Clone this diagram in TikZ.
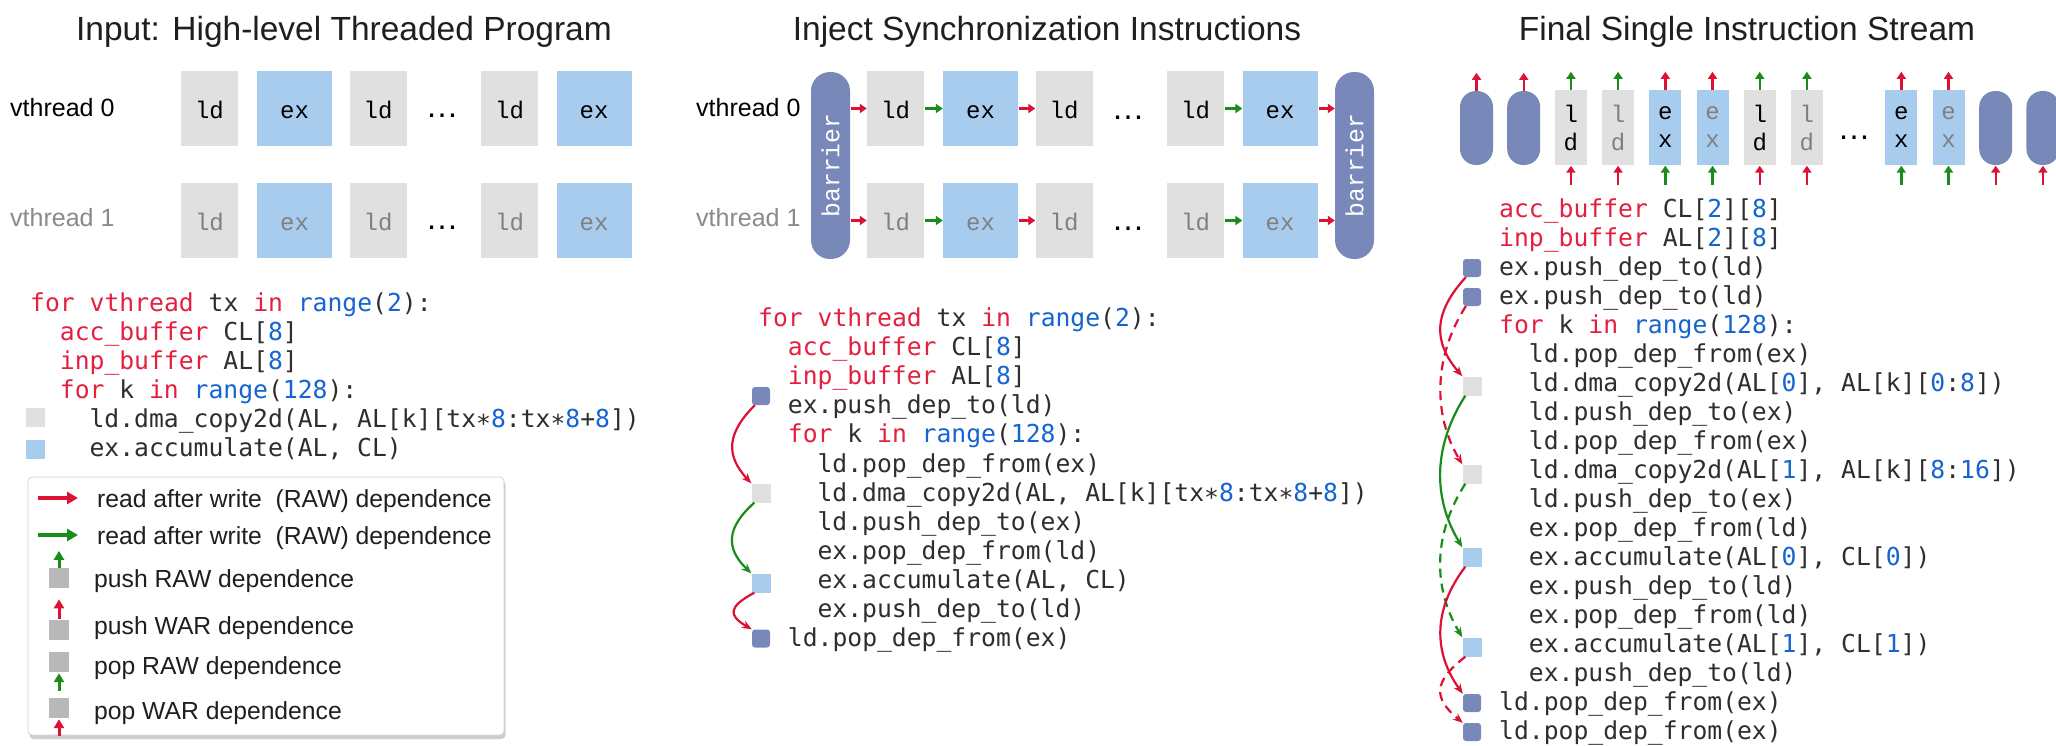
\documentclass[tikz,border=0pt]{standalone}
\usepackage{fontspec}
\setmainfont{Liberation Sans}
\newfontfamily\codefont{DejaVu Sans Mono}
\newfontfamily\monofont{Liberation Mono}
\usetikzlibrary{arrows.meta,shadows}

\definecolor{kwred}{HTML}{E3203F}
\definecolor{numblue}{HTML}{1464D2}
\definecolor{codeink}{HTML}{2E2E2E}
\definecolor{depred}{HTML}{DD1133}
\definecolor{depgreen}{HTML}{1A8C1A}
\definecolor{ldgray}{HTML}{E0E0E0}
\definecolor{exblue}{HTML}{A8CCEE}
\definecolor{barrierblue}{HTML}{7888B8}
\definecolor{keygray}{HTML}{B8B8B8}
\definecolor{threadgray}{HTML}{8A8A8A}
\definecolor{boxgray}{HTML}{808080}

\newcommand\ckw[1]{\textcolor{kwred}{#1}}
\newcommand\cnum[1]{\textcolor{numblue}{#1}}

\begin{document}
\begin{tikzpicture}[x=1pt,y=-1pt,
  title/.style={anchor=base, inner sep=0, font=\fontsize{33.5}{40}\selectfont, text=black!88},
  thread/.style={anchor=base west, inner sep=0, font=\fontsize{25}{30}\selectfont},
  codeln/.style={anchor=base west, inner sep=0, font=\codefont\fontsize{24.7}{29}\selectfont, text=codeink},
  keytext/.style={anchor=base west, inner sep=0, font=\fontsize{24.7}{29}\selectfont, text=black!88},
  ldbox/.style={fill=ldgray, minimum width=57pt, minimum height=75pt, inner sep=0,
    font=\monofont\fontsize{24}{24}\selectfont, text height=19pt, text depth=0pt},
  exbox/.style={ldbox, fill=exblue, minimum width=75pt},
  barrierbox/.style={fill=barrierblue, rounded corners=19pt, minimum width=39pt, minimum height=187pt,
    inner sep=0, text=white, font=\monofont\fontsize{24.7}{24.7}\selectfont},
  pill/.style={fill=barrierblue, rounded corners=16pt, minimum width=33pt, minimum height=74pt, inner sep=0},
  slot/.style={minimum width=32pt, minimum height=75pt, inner sep=0, align=center,
    font=\monofont\fontsize{24}{28}\selectfont},
  ellipsis/.style={anchor=base, inner sep=0, font=\fontsize{33}{33}\selectfont},
  ldtag/.style={fill=ldgray, minimum size=19pt, inner sep=0},
  extag/.style={fill=exblue, minimum size=19pt, inner sep=0},
  bartag/.style={fill=barrierblue, minimum size=18pt, inner sep=0, rounded corners=3pt},
  keytag/.style={fill=keygray, minimum size=20pt, inner sep=0},
  keybox/.style={draw=black!18, line width=0.8pt, fill=white, rounded corners=4pt,
    minimum width=476pt, minimum height=258pt,
    drop shadow={shadow xshift=1.5pt, shadow yshift=-4pt, opacity=0.35, fill=black!55}},
  flow/.style={line width=2.4pt, -{Triangle[length=7pt,width=9pt]}},
  depr/.style={flow, draw=depred},
  depg/.style={flow, draw=depgreen},
  deparc/.style={line width=2.2pt, -{Stealth[length=10pt,width=8pt]}},
  arcr/.style={deparc, draw=depred},
  arcg/.style={deparc, draw=depgreen},
  brk/.style={dash pattern=on 9pt off 6pt},
  keyflow/.style={line width=3.5pt, -{Triangle[length=11pt,width=12pt]}},
  keyup/.style={line width=3pt, -{Triangle[length=9pt,width=10pt]}}
]
\useasboundingbox (0,0) rectangle (2056,745);
\fill[white] (0,0) rectangle (2056,745);

% ---------- titles ----------
\node[title] (t1) at (344,40) {Input: High-level Threaded Program};
\node[title] (t2) at (1047,40) {Inject Synchronization Instructions};
\node[title] (t3) at (1747,40) {Final Single Instruction Stream};

% ---------- panel 1: threaded program ----------
\node[thread] (v0) at (10,116) {vthread 0};
\node[thread, text=threadgray] (v1) at (10,226) {vthread 1};

\node[ldbox] (a0) at (209.5,108.5) {ld};
\node[exbox] (a1) at (294.5,108.5) {ex};
\node[ldbox] (a2) at (378,108.5) {ld};
\node[ellipsis] (ad0) at (442,117) {…};
\node[ldbox] (a3) at (509.5,108.5) {ld};
\node[exbox] (a4) at (594,108.5) {ex};

\node[ldbox, text=boxgray] (b0) at (209.5,220.5) {ld};
\node[exbox, text=boxgray] (b1) at (294.5,220.5) {ex};
\node[ldbox, text=boxgray] (b2) at (378,220.5) {ld};
\node[ellipsis] (bd0) at (442,229) {…};
\node[ldbox, text=boxgray] (b3) at (509.5,220.5) {ld};
\node[exbox, text=boxgray] (b4) at (594,220.5) {ex};

\node[codeln] (p0) at (30,311) {\ckw{for vthread} tx \ckw{in} \cnum{range}(\cnum{2}):};
\node[codeln] (p1) at (59.7,340) {\ckw{acc\_buffer} CL[\cnum{8}]};
\node[codeln] (p2) at (59.7,369) {\ckw{inp\_buffer} AL[\cnum{8}]};
\node[codeln] (p3) at (59.7,398) {\ckw{for} k \ckw{in} \cnum{range}(\cnum{128}):};
\node[codeln] (p4) at (89.4,427) {ld.dma\_copy2d(AL, AL[k][tx∗\cnum{8}:tx∗\cnum{8}+\cnum{8}])};
\node[codeln] (p5) at (89.4,456) {ex.accumulate(AL, CL)};
\node[ldtag] (p4tag) at (35.5,417.5) {};
\node[extag] (p5tag) at (35.5,449) {};

% legend
\node[keybox] (key) at (266,606) {};
\coordinate (k1a) at (38,498);
\coordinate (k1b) at (78,498);
\draw[keyflow, draw=depred] (k1a) -- (k1b);
\node[keytext] (k1t) at (97,507) {read after write\ \ (RAW) dependence};
\coordinate (k2a) at (38,535);
\coordinate (k2b) at (78,535);
\draw[keyflow, draw=depgreen] (k2a) -- (k2b);
\node[keytext] (k2t) at (97,544) {read after write\ \ (RAW) dependence};
\node[keytag] (k3) at (59,578) {};
\draw[keyup, draw=depgreen] (k3.north) -- ([yshift=17pt]k3.north);
\node[keytext] (k3t) at (94,587) {push RAW dependence};
\node[keytag] (k4) at (59,629.5) {};
\draw[keyup, draw=depred] (k4.north) -- ([yshift=20pt]k4.north);
\node[keytext] (k4t) at (94,634) {push WAR dependence};
\node[keytag] (k5) at (59,662) {};
\draw[keyup, draw=depgreen] ([yshift=-19pt]k5.south) -- ([yshift=-1pt]k5.south);
\node[keytext] (k5t) at (94,674) {pop RAW dependence};
\node[keytag] (k6) at (59,708) {};
\draw[keyup, draw=depred] ([yshift=-18pt]k6.south) -- ([yshift=-1pt]k6.south);
\node[keytext] (k6t) at (94,719) {pop WAR dependence};

% ---------- panel 2: synchronization ----------
\node[thread] (w0) at (696,116) {vthread 0};
\node[thread, text=threadgray] (w1) at (696,226) {vthread 1};

\node[barrierbox] (bL) at (830.5,165.5) {\rotatebox{90}{barrier}};
\node[barrierbox] (bR) at (1354.5,165.5) {\rotatebox{90}{barrier}};

\node[ldbox] (c0) at (895.5,108.5) {ld};
\node[exbox] (c1) at (980.5,108.5) {ex};
\node[ldbox] (c2) at (1064,108.5) {ld};
\node[ellipsis] (cd0) at (1128,119) {…};
\node[ldbox] (c3) at (1195.5,108.5) {ld};
\node[exbox] (c4) at (1280,108.5) {ex};

\node[ldbox, text=boxgray] (d0) at (895.5,220.5) {ld};
\node[exbox, text=boxgray] (d1) at (980.5,220.5) {ex};
\node[ldbox, text=boxgray] (d2) at (1064,220.5) {ld};
\node[ellipsis] (dd0) at (1128,230) {…};
\node[ldbox, text=boxgray] (d3) at (1195.5,220.5) {ld};
\node[exbox, text=boxgray] (d4) at (1280,220.5) {ex};

\foreach \r in {c,d}{
  \draw[depr, shorten <=1pt] (bL.east |- \r0.west) -- (\r0.west);
  \draw[depg, shorten <=1pt] (\r0.east) -- (\r1.west);
  \draw[depr, shorten <=1pt] (\r1.east) -- (\r2.west);
  \draw[depg, shorten <=1pt] (\r3.east) -- (\r4.west);
  \draw[depr, shorten <=1pt] (\r4.east) -- (bR.west |- \r4.east);
}

\node[codeln] (q0) at (758,326) {\ckw{for vthread} tx \ckw{in} \cnum{range}(\cnum{2}):};
\node[codeln] (q1) at (787.7,355) {\ckw{acc\_buffer} CL[\cnum{8}]};
\node[codeln] (q2) at (787.7,384) {\ckw{inp\_buffer} AL[\cnum{8}]};
\node[codeln] (q3) at (787.7,413) {ex.push\_dep\_to(ld)};
\node[codeln] (q4) at (787.7,442) {\ckw{for} k \ckw{in} \cnum{range}(\cnum{128}):};
\node[codeln] (q5) at (817.4,472) {ld.pop\_dep\_from(ex)};
\node[codeln] (q6) at (817.4,501) {ld.dma\_copy2d(AL, AL[k][tx∗\cnum{8}:tx∗\cnum{8}+\cnum{8}])};
\node[codeln] (q7) at (817.4,530) {ld.push\_dep\_to(ex)};
\node[codeln] (q8) at (817.4,559) {ex.pop\_dep\_from(ld)};
\node[codeln] (q9) at (817.4,588) {ex.accumulate(AL, CL)};
\node[codeln] (q10) at (817.4,617) {ex.push\_dep\_to(ld)};
\node[codeln] (q11) at (787.7,646) {ld.pop\_dep\_from(ex)};

\node[bartag] (q3tag) at (761,396) {};
\node[ldtag] (q6tag) at (761,493) {};
\node[extag] (q9tag) at (761,583) {};
\node[bartag] (q11tag) at (761,638.5) {};

\draw[arcr] ([xshift=3pt]q3tag.south west) .. controls +(-28,28) and +(-26,-28) .. (q6tag.north west);
\draw[arcg] ([xshift=3pt]q6tag.south west) .. controls +(-28,25) and +(-26,-25) .. (q9tag.north west);
\draw[arcr] ([xshift=3pt]q9tag.south west) .. controls +(-26,14) and +(-24,-14) .. (q11tag.north west);

% ---------- panel 3: single stream ----------
\node[pill] (s0) at (1476.5,128) {};
\node[pill] (s1) at (1523.7,128) {};
\node[slot, fill=ldgray] (s2) at (1570.9,127.5) {l\\d};
\node[slot, fill=ldgray, text=boxgray] (s3) at (1618.1,127.5) {l\\d};
\node[slot, fill=exblue] (s4) at (1665.3,127.5) {e\\x};
\node[slot, fill=exblue, text=boxgray] (s5) at (1712.5,127.5) {e\\x};
\node[slot, fill=ldgray] (s6) at (1759.7,127.5) {l\\d};
\node[slot, fill=ldgray, text=boxgray] (s7) at (1806.9,127.5) {l\\d};
\node[ellipsis] (sd) at (1854.1,139) {…};
\node[slot, fill=exblue] (s9) at (1901.3,127.5) {e\\x};
\node[slot, fill=exblue, text=boxgray] (s10) at (1948.5,127.5) {e\\x};
\node[pill] (s11) at (1995.7,128) {};
\node[pill] (s12) at (2042.9,128) {};

\foreach \n/\c in {s0/depr, s1/depr, s2/depg, s3/depg, s4/depr, s5/depr, s6/depg, s7/depg, s9/depr, s10/depr}
  \draw[\c] (\n.north) -- ([yshift=18pt]\n.north);
\foreach \n/\c in {s2/depr, s3/depr, s4/depg, s5/depg, s6/depr, s7/depr, s9/depg, s10/depg, s11/depr, s12/depr}
  \draw[\c] ([yshift=-20pt]\n.south) -- ([yshift=-0.5pt]\n.south);

\node[codeln] (r0) at (1499,217) {\ckw{acc\_buffer} CL[\cnum{2}][\cnum{8}]};
\node[codeln] (r1) at (1499,246) {\ckw{inp\_buffer} AL[\cnum{2}][\cnum{8}]};
\node[codeln] (r2) at (1499,275) {ex.push\_dep\_to(ld)};
\node[codeln] (r3) at (1499,304) {ex.push\_dep\_to(ld)};
\node[codeln] (r4) at (1499,333) {\ckw{for} k \ckw{in} \cnum{range}(\cnum{128}):};
\node[codeln] (r5) at (1528.7,362) {ld.pop\_dep\_from(ex)};
\node[codeln] (r6) at (1528.7,391) {ld.dma\_copy2d(AL[\cnum{0}], AL[k][\cnum{0}:\cnum{8}])};
\node[codeln] (r7) at (1528.7,420) {ld.push\_dep\_to(ex)};
\node[codeln] (r8) at (1528.7,449) {ld.pop\_dep\_from(ex)};
\node[codeln] (r9) at (1528.7,478) {ld.dma\_copy2d(AL[\cnum{1}], AL[k][\cnum{8}:\cnum{16}])};
\node[codeln] (r10) at (1528.7,507) {ld.push\_dep\_to(ex)};
\node[codeln] (r11) at (1528.7,536) {ex.pop\_dep\_from(ld)};
\node[codeln] (r12) at (1528.7,565) {ex.accumulate(AL[\cnum{0}], CL[\cnum{0}])};
\node[codeln] (r13) at (1528.7,594) {ex.push\_dep\_to(ld)};
\node[codeln] (r14) at (1528.7,623) {ex.pop\_dep\_from(ld)};
\node[codeln] (r15) at (1528.7,652) {ex.accumulate(AL[\cnum{1}], CL[\cnum{1}])};
\node[codeln] (r16) at (1528.7,681) {ex.push\_dep\_to(ld)};
\node[codeln] (r17) at (1499,710) {ld.pop\_dep\_from(ex)};
\node[codeln] (r18) at (1499,739) {ld.pop\_dep\_from(ex)};

\node[bartag] (r2tag) at (1472,268) {};
\node[bartag] (r3tag) at (1472,297) {};
\node[ldtag] (r6tag) at (1472,386) {};
\node[ldtag] (r9tag) at (1472,474) {};
\node[extag] (r12tag) at (1472,557) {};
\node[extag] (r15tag) at (1472,647) {};
\node[bartag] (r17tag) at (1472,703) {};
\node[bartag] (r18tag) at (1472,732) {};

\draw[arcr] ([xshift=3pt]r2tag.south west) .. controls +(-32,35) and +(-30,-35) .. (r6tag.north west);
\draw[arcr, brk] ([xshift=3pt]r3tag.south west) .. controls +(-32,50) and +(-30,-50) .. (r9tag.north west);
\draw[arcg] ([xshift=3pt]r6tag.south west) .. controls +(-32,50) and +(-30,-50) .. (r12tag.north west);
\draw[arcg, brk] ([xshift=3pt]r9tag.south west) .. controls +(-32,50) and +(-30,-50) .. (r15tag.north west);
\draw[arcr] ([xshift=3pt]r12tag.south west) .. controls +(-32,42) and +(-30,-42) .. (r17tag.north west);
\draw[arcr, brk] ([xshift=3pt]r15tag.south west) .. controls +(-32,25) and +(-30,-25) .. (r18tag.north west);
\end{tikzpicture}
\end{document}
